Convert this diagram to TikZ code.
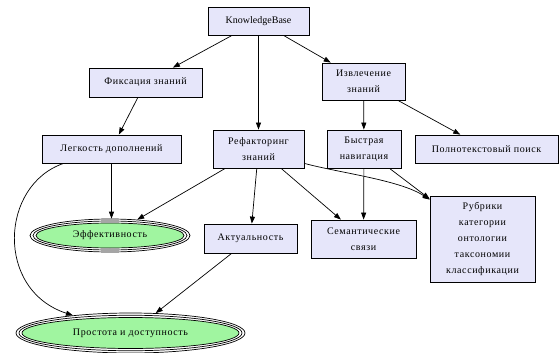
\documentclass[tikz,border=0pt]{standalone}
\usepackage{fontspec}
\setmainfont[LetterSpace=6]{Liberation Serif}
\newfontfamily\latinfont{Liberation Serif}
\usetikzlibrary{arrows.meta,shapes.geometric,shadows}
\definecolor{boxfill}{RGB}{230,230,250}
\definecolor{ellfill}{RGB}{160,245,160}
\begin{document}
\begin{tikzpicture}[x=1pt,y=-1pt,
  every node/.style={font=\fontsize{10}{16}\selectfont},
  kbox/.style={rectangle,draw=black,line width=0.8pt,fill=boxfill,inner sep=0pt,align=center,
    drop shadow={shadow xshift=1.3pt,shadow yshift=-1.3pt,fill=black,opacity=0.45}},
  goal/.style={ellipse,draw=black,line width=0.7pt,inner sep=0pt},
  conn/.style={draw=black,line width=0.7pt,-{Triangle[length=7pt,width=5pt]}}]
\path[use as bounding box] (0,0) rectangle (559,353);

\node[kbox,minimum width=101pt,minimum height=28pt,font=\latinfont\fontsize{10}{16}\selectfont] (kb) at (258.5,21) {KnowledgeBase};
\node[kbox,minimum width=113pt,minimum height=29pt] (fix) at (145.5,82.5) {Фиксация знаний};
\node[kbox,minimum width=83pt,minimum height=37pt] (izv) at (363.5,81.5) {Извлечение\\знаний};
\node[kbox,minimum width=139pt,minimum height=28pt] (leg) at (111.5,149) {Легкость дополнений};
\node[kbox,minimum width=91pt,minimum height=38pt] (ref) at (258.5,149) {Рефакторинг\\знаний};
\node[kbox,minimum width=74pt,minimum height=38pt] (nav) at (364,149) {Быстрая\\навигация};
\node[kbox,minimum width=143pt,minimum height=28pt] (poln) at (486.5,149) {Полнотекстовый поиск};
\node[kbox,minimum width=93pt,minimum height=29pt] (akt) at (250.5,238.5) {Актуальность};
\node[kbox,minimum width=105pt,minimum height=38pt] (sem) at (363.5,239) {Семантические\\связи};
\node[kbox,minimum width=105pt,minimum height=86pt] (rub) at (482.5,239) {Рубрики\\категории\\онтологии\\таксономии\\классификации};

% goal ellipses with three peripheries
\node[goal,minimum width=160pt,minimum height=33pt] (eff) at (110,235.5) {};
\node[goal,minimum width=154pt,minimum height=29pt] (effm) at (eff.center) {};
\node[goal,fill=ellfill,minimum width=148pt,minimum height=25pt] (effi) at (eff.center) {Эффективность};

\node[goal,minimum width=229pt,minimum height=40pt] (prost) at (130.5,333) {};
\node[goal,minimum width=223pt,minimum height=35.5pt] (prostm) at (prost.center) {};
\node[goal,fill=ellfill,minimum width=217pt,minimum height=31pt] (prosti) at (prost.center) {Простота и доступность};

\draw[conn] (kb) -- (fix);
\draw[conn] (kb) -- (ref);
\draw[conn] (kb) -- (izv);
\draw[conn] (fix) -- (leg);
\draw[conn] (izv) -- (nav);
\draw[conn] (izv) -- (poln);
\draw[conn] (leg.south) -- (leg.south |- eff.north);
\draw[conn] ([xshift=22pt]leg.south west) .. controls (0,185) and (-5,290) .. (prost.163);
\draw[conn] (ref) -- (eff);
\draw[conn] (ref) -- (akt);
\draw[conn] (ref) -- (sem);
\draw[conn] ([yshift=5pt]ref.south east) .. controls (340,173) and (400,180) .. ([yshift=-4pt]rub.north west);
\draw[conn] (nav) -- (sem);
\draw[conn] (nav) -- (rub);
\draw[conn] (akt) -- (prost);
\end{tikzpicture}
\end{document}
